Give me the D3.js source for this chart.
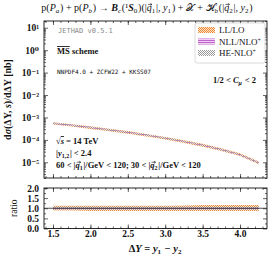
<!DOCTYPE html>
<html>
<head>
<meta charset="utf-8">
<script src="https://cdn.jsdelivr.net/npm/d3@7"></script>
<style>
  body { margin: 0; background: #fff; }
  svg text { fill: #111; }
</style>
</head>
<body>
<div id="chart"></div>
<script>
// Data
const deltaY = [1.5, 1.75, 2.0, 2.25, 2.5, 2.75, 3.0, 3.25, 3.5, 3.75, 4.0, 4.25];
// NLL/NLO+ central value [nb], the ratio panel is normalised to it
const central = [5.5e-4, 4.5e-4, 3.6e-4, 2.8e-4, 2.2e-4, 1.65e-4, 1.2e-4, 8.5e-5, 5.8e-5, 3.7e-5, 2.2e-5, 9.5e-6];
// band edges, as ratio to central
const llLow   = [0.89, 0.89, 0.86, 0.86, 0.86, 0.86, 0.86, 0.86, 0.86, 0.86, 0.86, 0.86];
const llHigh  = [1.12, 1.12, 1.12, 1.12, 1.12, 1.12, 1.12, 1.13, 1.16, 1.16, 1.16, 1.16];
const nllLow  = [0.95, 0.95, 0.95, 0.95, 0.95, 0.95, 0.95, 0.95, 0.95, 0.95, 0.95, 0.95];
const nllHigh = [1.05, 1.05, 1.05, 1.05, 1.05, 1.05, 1.05, 1.05, 1.05, 1.05, 1.05, 1.05];
const heLow   = [0.92, 0.92, 0.92, 0.92, 0.92, 0.92, 0.92, 0.92, 0.92, 0.92, 0.92, 0.92];
const heHigh  = [1.08, 1.08, 1.08, 1.08, 1.08, 1.08, 1.08, 1.08, 1.08, 1.08, 1.08, 1.08];

const xTicks = [1.5, 2.0, 2.5, 3.0, 3.5, 4.0];
const yExponents = [1, 0, -1, -2, -3, -4, -5];
const ratioTicks = [0, 0.5, 1.0, 1.5, 2.0];

const series = [
  { name: "LL/LO", sup: "", low: llLow, high: llHigh, pat: "llPat" },
  { name: "NLL/NLO", sup: "+", low: nllLow, high: nllHigh, pat: "nllPat" },
  { name: "HE-NLO", sup: "+", low: heLow, high: heHigh, pat: "hePat" }
];

const serif = "'Liberation Serif', 'DejaVu Serif', serif";
const mono = "'DejaVu Sans Mono', 'Liberation Mono', monospace";

// Layout
const W = 273, H = 259;
const left = 44, right = 267;
const mainTop = 21, mainBottom = 178;
const ratTop = 188, ratBottom = 228.5;

const svg = d3.select("#chart").append("svg")
  .attr("width", W).attr("height", H)
  .style("font-family", serif);

// Patterns
const defs = svg.append("defs");
const llPat = defs.append("pattern").attr("id", "llPat")
  .attr("patternUnits", "userSpaceOnUse").attr("width", 2).attr("height", 2);
llPat.append("rect").attr("width", 2).attr("height", 2).attr("fill", "#fde3c8");
llPat.append("rect").attr("width", 1).attr("height", 1).attr("fill", "#f08a3a");
llPat.append("rect").attr("x", 1).attr("y", 1).attr("width", 1).attr("height", 1).attr("fill", "#f08a3a");

const nllPat = defs.append("pattern").attr("id", "nllPat")
  .attr("patternUnits", "userSpaceOnUse").attr("width", 2).attr("height", 2);
nllPat.append("rect").attr("width", 2).attr("height", 2).attr("fill", "#f0d0f2");
nllPat.append("rect").attr("width", 2).attr("height", 1).attr("fill", "#c163cc");

const hePat = defs.append("pattern").attr("id", "hePat")
  .attr("patternUnits", "userSpaceOnUse").attr("width", 2).attr("height", 2);
hePat.append("rect").attr("width", 1).attr("height", 1).attr("fill", "#9a9a9a");
hePat.append("rect").attr("x", 1).attr("y", 1).attr("width", 1).attr("height", 1).attr("fill", "#9a9a9a");

// Scales
const x = d3.scaleLinear().domain([1.38, 4.36]).range([left, right]);
const y = d3.scaleLog().domain([2e-6, 20]).range([mainBottom, mainTop]);
const yr = d3.scaleLinear().domain([0, 2]).range([ratBottom, ratTop]);

const supDigits = { "-": "\u207B", "0": "\u2070", "1": "\u00B9", "2": "\u00B2", "3": "\u00B3", "4": "\u2074", "5": "\u2075" };

function drawFrame(yTop, yBot, yScale, majorY, minorY, yFmt, showX) {
  const g = svg.append("g");
  const xMinor = d3.range(14, 44).map(d => d / 10).filter(d => d >= 1.38 && d <= 4.36);
  // bottom ticks
  g.append("g").attr("transform", `translate(0,${yBot})`)
    .call(d3.axisBottom(x).tickValues(xMinor).tickSize(-2).tickFormat(""))
    .call(a => a.select(".domain").remove());
  const bx = g.append("g").attr("transform", `translate(0,${yBot})`)
    .call(d3.axisBottom(x).tickValues(xTicks).tickSizeInner(-4).tickSizeOuter(0)
      .tickPadding(2).tickFormat(showX ? d3.format(".1f") : ""));
  bx.select(".domain").remove();
  bx.selectAll("text").attr("font-size", 9.5).attr("font-weight", "bold")
    .attr("fill", "#111").style("font-family", serif);
  // top ticks
  g.append("g").attr("transform", `translate(0,${yTop})`)
    .call(d3.axisTop(x).tickValues(xMinor).tickSize(-2).tickFormat(""))
    .call(a => a.select(".domain").remove());
  g.append("g").attr("transform", `translate(0,${yTop})`)
    .call(d3.axisTop(x).tickValues(xTicks).tickSize(-4).tickFormat(""))
    .call(a => a.select(".domain").remove());
  // left / right ticks
  const ly = g.append("g").attr("transform", `translate(${left},0)`)
    .call(d3.axisLeft(yScale).tickValues(majorY).tickSizeInner(-4).tickSizeOuter(0)
      .tickPadding(5).tickFormat(yFmt));
  ly.select(".domain").remove();
  ly.selectAll("text").attr("font-size", 9.5).attr("font-weight", "bold")
    .attr("fill", "#111").style("font-family", serif);
  g.append("g").attr("transform", `translate(${left},0)`)
    .call(d3.axisLeft(yScale).tickValues(minorY).tickSize(-2).tickFormat(""))
    .call(a => a.select(".domain").remove());
  g.append("g").attr("transform", `translate(${right},0)`)
    .call(d3.axisRight(yScale).tickValues(majorY).tickSize(-4).tickFormat(""))
    .call(a => a.select(".domain").remove());
  g.append("g").attr("transform", `translate(${right},0)`)
    .call(d3.axisRight(yScale).tickValues(minorY).tickSize(-2).tickFormat(""))
    .call(a => a.select(".domain").remove());
  g.selectAll(".tick line").attr("stroke", "#222").attr("stroke-width", 0.7);
  g.append("rect").attr("x", left).attr("y", yTop)
    .attr("width", right - left).attr("height", yBot - yTop)
    .attr("fill", "none").attr("stroke", "#111").attr("stroke-width", 0.9);
}

// Main panel bands
const mainArea = d3.area()
  .x((d, i) => x(deltaY[i]))
  .y0(d => y(d[0]))
  .y1(d => y(d[1]));
series.forEach(s => {
  const pts = deltaY.map((_, i) => [central[i] * s.low[i], central[i] * s.high[i]]);
  svg.append("path").datum(pts)
    .attr("d", mainArea)
    .attr("fill", `url(#${s.pat})`);
});

// Ratio panel bands
const ratioArea = d3.area()
  .x((d, i) => x(deltaY[i]))
  .y0(d => yr(d[0]))
  .y1(d => yr(d[1]));
series.forEach(s => {
  const pts = deltaY.map((_, i) => [s.low[i], s.high[i]]);
  svg.append("path").datum(pts)
    .attr("d", ratioArea)
    .attr("fill", `url(#${s.pat})`);
});
svg.append("line")
  .attr("x1", left).attr("x2", right)
  .attr("y1", yr(1)).attr("y2", yr(1))
  .attr("stroke", "#222").attr("stroke-width", 0.8);

// Frames and axes
const majorMain = yExponents.map(e => Math.pow(10, e));
const minorMain = y.ticks().filter(v => !majorMain.some(m => Math.abs(v / m - 1) < 1e-6));
drawFrame(mainTop, mainBottom, y, majorMain, minorMain,
  v => "10" + String(Math.round(Math.log10(v))).split("").map(c => supDigits[c]).join(""),
  false);
drawFrame(ratTop, ratBottom, yr, ratioTicks, [0.25, 0.75, 1.25, 1.75], d3.format(".1f"), true);

// helpers for rich text
function sub(t, s, size) {
  t.append("tspan").attr("font-size", size).attr("dy", 2).text(s);
  t.append("tspan").attr("dy", -2).text("\u200A");
}
function vecQ(t, idx, subSize) {
  t.append("tspan").attr("class", "vq").attr("font-style", "italic").text("q");
  sub(t, idx, subSize);
}

// Title
const title = svg.append("text").attr("x", 147).attr("y", 11)
  .attr("text-anchor", "middle").attr("font-size", 10);
title.append("tspan").text("p(");
title.append("tspan").attr("font-style", "italic").text("P");
sub(title.append("tspan").attr("font-style", "italic"), "a", 7);
title.append("tspan").text(") + p(");
title.append("tspan").attr("font-style", "italic").text("P");
sub(title.append("tspan").attr("font-style", "italic"), "b", 7);
title.append("tspan").text(") \u2192 ");
title.append("tspan").attr("font-style", "italic").attr("font-weight", "bold").text("B");
sub(title.append("tspan").attr("font-style", "italic"), "c", 7);
title.append("tspan").text("(\u00B9");
title.append("tspan").attr("font-style", "italic").attr("font-weight", "bold").text("S");
sub(title, "0", 7);
title.append("tspan").text(")(|");
vecQ(title, "1", 7);
title.append("tspan").text("|, ");
title.append("tspan").attr("font-style", "italic").text("y");
sub(title, "1", 7);
title.append("tspan").text(") + \uD835\uDCB3 + \u210B");
sub(title.append("tspan").attr("font-style", "italic"), "b", 7);
title.append("tspan").text("(|");
vecQ(title, "2", 7);
title.append("tspan").text("|, ");
title.append("tspan").attr("font-style", "italic").text("y");
sub(title, "2", 7);
title.append("tspan").text(")");

// Y axis label (main)
const yl = svg.append("text")
  .attr("transform", `translate(11,${(mainTop + mainBottom) / 2}) rotate(-90)`)
  .attr("text-anchor", "middle").attr("font-size", 10).attr("font-weight", "bold");
yl.append("tspan").text("d");
yl.append("tspan").attr("font-style", "italic").text("\u03C3");
yl.append("tspan").text("(\u0394Y, ");
yl.append("tspan").attr("font-style", "italic").text("s");
yl.append("tspan").text(")/d\u0394Y [nb]");

// Ratio label
svg.append("text")
  .attr("transform", `translate(17,${(ratTop + ratBottom) / 2}) rotate(-90)`)
  .attr("text-anchor", "middle").attr("font-size", 9.5).text("ratio");

// X axis label
const xl = svg.append("text").attr("x", (left + right) / 2).attr("y", 252)
  .attr("text-anchor", "middle").attr("font-size", 10.5).attr("font-weight", "bold");
xl.append("tspan").text("\u0394");
xl.append("tspan").attr("font-style", "italic").text("Y");
xl.append("tspan").text(" = ");
xl.append("tspan").attr("font-style", "italic").text("y");
sub(xl, "1", 7);
xl.append("tspan").text(" \u2212 ");
xl.append("tspan").attr("font-style", "italic").text("y");
sub(xl, "2", 7);

// Annotations
svg.append("text").attr("x", 58).attr("y", 33)
  .style("font-family", mono).attr("font-size", 7)
  .style("fill", "#8a8a8a").text("JETHAD v0.5.1");
const ms = svg.append("text").attr("x", 57).attr("y", 54).attr("font-size", 8.5).attr("font-weight", "bold");
ms.append("tspan").attr("text-decoration", "overline").text("MS");
ms.append("tspan").text(" scheme");
svg.append("text").attr("x", 57).attr("y", 74)
  .style("font-family", mono).attr("font-size", 6)
  .text("NNPDF4.0 + ZCFW22 + KKSS07");

const cmu = svg.append("text").attr("x", 256).attr("y", 83)
  .attr("text-anchor", "end").attr("font-size", 8.5).attr("font-weight", "bold");
cmu.append("tspan").text("1/2 < ");
cmu.append("tspan").attr("font-style", "italic").text("C");
sub(cmu.append("tspan").attr("font-style", "italic"), "\u03BC", 6);
cmu.append("tspan").text(" < 2");

const s1 = svg.append("text").attr("x", 56).attr("y", 144).attr("font-size", 8.5).attr("font-weight", "bold");
s1.append("tspan").text("\u221A");
s1.append("tspan").attr("font-style", "italic").attr("text-decoration", "overline").text("s");
s1.append("tspan").text(" = 14 TeV");

const s2 = svg.append("text").attr("x", 56).attr("y", 156).attr("font-size", 8.5).attr("font-weight", "bold");
s2.append("tspan").text("|");
s2.append("tspan").attr("font-style", "italic").text("y");
sub(s2, "1,2", 6);
s2.append("tspan").text("| < 2.4");

const s3 = svg.append("text").attr("x", 56).attr("y", 168).attr("font-size", 8.5).attr("font-weight", "bold");
s3.append("tspan").text("60 < |");
vecQ(s3, "1", 6);
s3.append("tspan").text("|/GeV < 120; 30 < |");
vecQ(s3, "2", 6);
s3.append("tspan").text("|/GeV < 120");

// vector arrows over q, as small paths
svg.selectAll("tspan.vq").each(function () {
  const b = this.getBBox();
  const yA = b.y + b.height * 0.22;
  const x0 = b.x + b.width * 0.25, x1 = b.x + b.width * 1.05;
  svg.append("path")
    .attr("d", `M${x0},${yA}H${x1}M${x1 - 1.6},${yA - 1.1}L${x1},${yA}L${x1 - 1.6},${yA + 1.1}`)
    .attr("fill", "none").attr("stroke", "#111").attr("stroke-width", 0.6);
});

// Legend
const lg = svg.append("g");
lg.append("rect").attr("x", 195).attr("y", 23).attr("width", 70).attr("height", 40)
  .attr("rx", 2).attr("fill", "#fff").attr("fill-opacity", 0.9)
  .attr("stroke", "#d0d0d0").attr("stroke-width", 0.8);
series.forEach((s, i) => {
  const cy = 30 + i * 11.5;
  lg.append("rect").attr("x", 198).attr("y", cy - 3).attr("width", 17).attr("height", 6)
    .attr("fill", `url(#${s.pat})`);
  const t = lg.append("text").attr("x", 219).attr("y", cy + 3).attr("font-size", 9);
  t.append("tspan").text(s.name);
  if (s.sup) t.append("tspan").attr("font-size", 6).attr("dy", -3).text(s.sup);
});
</script>
</body>
</html>
